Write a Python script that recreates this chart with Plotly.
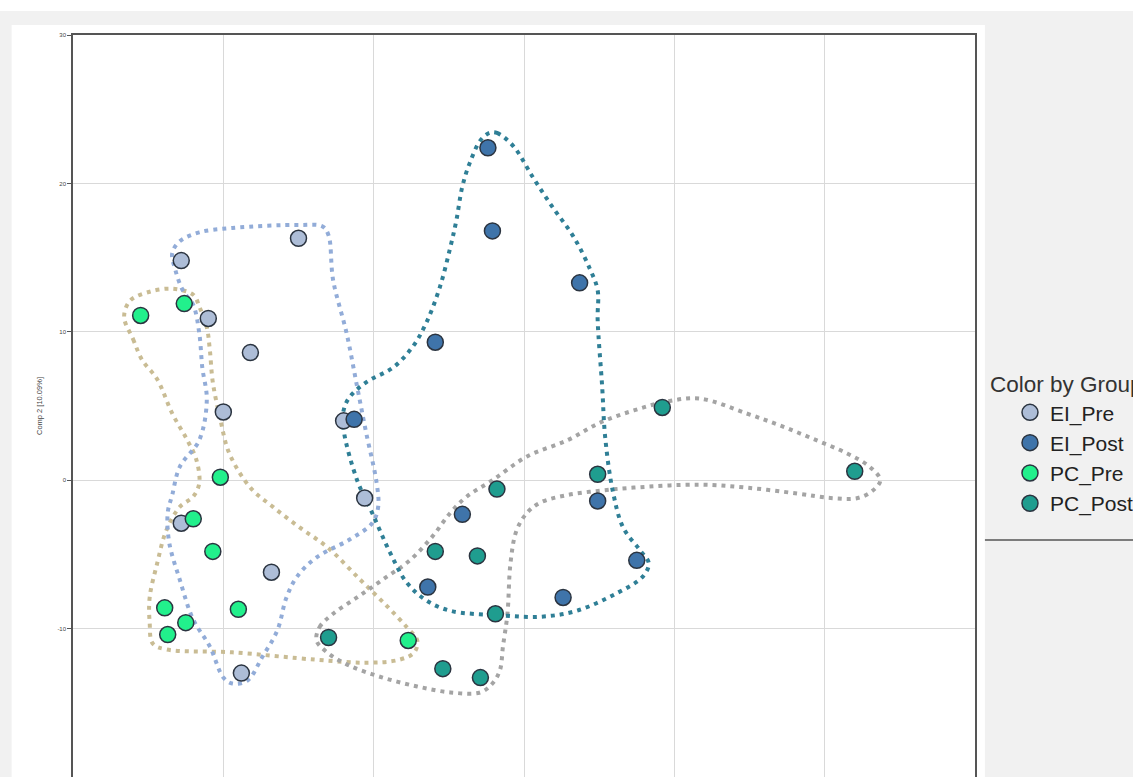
import plotly.graph_objects as go

# ---- score coordinates per group (Comp 1, Comp 2) ----
groups = ["EI_Pre", "EI_Post", "PC_Pre", "PC_Post"]

ei_pre_x = [-22.8, -15.0, -21.0, -18.2, -20.0, -12.0, -10.6, -22.8, -16.8, -18.8]
ei_pre_y = [14.8, 16.3, 10.9, 8.6, 4.6, 4.0, -1.2, -2.9, -6.2, -13.0]

ei_post_x = [-2.4, -2.1, 3.7, -5.9, -11.3, 4.9, -4.1, 7.5, -6.4, 2.6]
ei_post_y = [22.4, 16.8, 13.3, 9.3, 4.1, -1.4, -2.3, -5.4, -7.2, -7.9]

pc_pre_x = [-25.5, -22.6, -20.2, -22.0, -20.7, -23.9, -19.0, -22.5, -23.7, -7.7]
pc_pre_y = [11.1, 11.9, 0.2, -2.6, -4.8, -8.6, -8.7, -9.6, -10.4, -10.8]

pc_post_x = [9.2, 4.9, -1.8, -5.9, -3.1, -1.9, -13.0, -5.4, -2.9, 22.0]
pc_post_y = [4.9, 0.4, -0.6, -4.8, -5.1, -9.0, -10.6, -12.7, -13.3, 0.6]

# ---- group envelope outlines (Comp 1, Comp 2) ----
ei_pre_hull_x = [-23.4, -22.9, -21.6, -19.4, -14.9, -13.4, -13.0, -12.7, -11.8, -11.1,
                 -10.5, -9.8, -9.7, -10.1, -11.6, -13.8, -15.1, -15.8, -16.4, -17.4,
                 -18.4, -19.4, -20.0, -20.9, -22.0, -22.9, -23.6, -23.7, -23.4, -22.9,
                 -21.6, -21.1, -21.4, -21.6, -22.0, -22.7, -23.2]
ei_pre_hull_y = [15.3, 16.1, 16.7, 17.0, 17.2, 17.1, 16.5, 13.5, 9.9, 6.3,
                 3.2, -0.2, -1.8, -2.9, -4.0, -5.2, -6.5, -7.9, -10.1, -11.9,
                 -13.5, -13.7, -13.3, -11.2, -9.4, -6.7, -4.2, -2.2, -1.0, 0.9,
                 2.7, 5.4, 7.6, 9.9, 11.8, 12.8, 14.2]

pc_pre_hull_x = [-26.6, -26.0, -25.4, -24.4, -23.4, -22.4, -21.8, -21.6, -22.0, -22.9,
                 -23.8, -24.4, -24.9, -24.9, -24.7, -23.8, -19.4, -13.8, -10.5, -8.3,
                 -7.3, -7.1, -7.8, -9.1, -10.9, -13.1, -14.9, -16.7, -18.2, -19.6,
                 -20.2, -20.7, -20.9, -21.1, -21.6, -22.0, -23.4, -24.9, -26.2]
pc_pre_hull_y = [11.0, 9.5, 8.1, 6.8, 4.5, 2.7, 1.4, -0.2, -1.1, -1.8,
                 -3.4, -5.6, -7.9, -9.6, -11.0, -11.4, -11.6, -12.1, -12.3, -12.1,
                 -11.6, -10.8, -9.9, -8.5, -6.7, -4.5, -3.2, -1.8, -0.5, 1.8,
                 4.1, 6.6, 8.8, 10.3, 11.7, 12.5, 12.9, 12.7, 12.1]

ei_post_hull_x = [-2.3, -1.8, -0.7, 0.6, 1.9, 3.3, 4.4, 4.9, 4.9, 5.2,
                  5.4, 5.9, 6.6, 7.7, 8.3, 7.9, 6.2, 3.5, 1.1, -1.6,
                  -4.9, -6.5, -7.8, -8.9, -10.1, -11.1, -12.0, -12.0, -11.6, -10.5,
                  -8.7, -7.4, -6.5, -5.6, -4.9, -4.5, -4.1, -3.6, -2.9]
ei_post_hull_y = [23.4, 23.4, 22.5, 20.4, 18.4, 16.4, 14.2, 12.8, 10.8, 6.3,
                  2.9, -0.7, -3.2, -4.7, -5.6, -6.5, -7.6, -8.8, -9.2, -9.1,
                  -8.8, -8.1, -6.9, -4.9, -2.2, 0.0, 3.4, 4.7, 5.6, 6.6,
                  7.6, 9.0, 10.6, 13.0, 15.7, 17.5, 19.8, 21.4, 22.9]

pc_post_hull_x = [-13.8, -13.6, -12.7, -11.1, -9.4, -7.6, -6.1, -4.9, -3.8, -2.1,
                  0.2, 2.9, 5.1, 7.3, 9.5, 11.7, 14.8, 17.0, 19.2, 21.5,
                  23.0, 23.7, 23.2, 22.2, 20.4, 18.2, 14.8, 11.7, 7.3, 5.1,
                  2.9, 1.1, 0.2, -0.5, -0.9, -1.1, -1.4, -1.6, -2.1, -2.9,
                  -4.9, -7.1, -9.4, -11.6, -13.1]
pc_post_hull_y = [-10.8, -9.9, -9.0, -7.9, -6.7, -5.4, -3.8, -2.2, -1.1, 0.0,
                  1.6, 2.7, 3.9, 4.7, 5.3, 5.5, 4.5, 3.7, 2.8, 1.8,
                  0.9, 0.0, -0.7, -1.2, -1.2, -0.9, -0.5, -0.3, -0.5, -0.7,
                  -1.0, -1.5, -2.2, -3.4, -5.6, -9.0, -11.2, -12.8, -13.7, -14.3,
                  -14.3, -13.9, -13.3, -12.5, -11.6]

y_ticks = [-20, -10, 0, 10, 20, 30]
y_tick_labels = ["-20", "-10", "0", "10", "20", "30"]

fill_colors = {"EI_Pre": "#adbdd7", "EI_Post": "#3f74aa", "PC_Pre": "#22f08c", "PC_Post": "#1f9d8f"}
hull_colors = {"EI_Pre": "#92acd8", "EI_Post": "#2f7f96", "PC_Pre": "#c9bc94", "PC_Post": "#a4a4a4"}

points = {
    "EI_Pre": (ei_pre_x, ei_pre_y),
    "EI_Post": (ei_post_x, ei_post_y),
    "PC_Pre": (pc_pre_x, pc_pre_y),
    "PC_Post": (pc_post_x, pc_post_y),
}
hulls = {
    "EI_Pre": (ei_pre_hull_x, ei_pre_hull_y),
    "EI_Post": (ei_post_hull_x, ei_post_hull_y),
    "PC_Pre": (pc_pre_hull_x, pc_pre_hull_y),
    "PC_Post": (pc_post_hull_x, pc_post_hull_y),
}

fig = go.Figure()

# dotted envelopes behind the markers
for g in ["PC_Pre", "EI_Pre", "PC_Post", "EI_Post"]:
    hx, hy = hulls[g]
    fig.add_trace(go.Scatter(
        x=hx + hx[:1], y=hy + hy[:1], mode="lines",
        line=dict(color=hull_colors[g], width=4, dash="4px,5px", shape="spline", smoothing=1.0),
        showlegend=False, hoverinfo="skip",
    ))

for g in groups:
    px_, py_ = points[g]
    fig.add_trace(go.Scatter(
        x=px_, y=py_, mode="markers", name=g,
        marker=dict(size=16, color=fill_colors[g], line=dict(color="#2b3440", width=1.5)),
    ))

# page panels and the rule under the legend
shapes = [
    dict(type="rect", xref="paper", yref="paper", x0=-0.09, x1=1.3, y0=1.0323, y1=1.06,
         fillcolor="white", line=dict(width=0), layer="below"),
    dict(type="rect", xref="paper", yref="paper", x0=-0.068, x1=1.011, y0=-0.02, y1=1.0135,
         fillcolor="white", line=dict(width=0), layer="below"),
    dict(type="line", xref="paper", yref="paper", x0=1.011, x1=1.2, y0=0.3194, y1=0.3194,
         line=dict(color="#555555", width=1.5)),
]

fig.update_layout(
    width=1133, height=777,
    margin=dict(l=73, r=158, t=35, b=0, autoexpand=False),
    paper_bgcolor="#f1f1f1",
    plot_bgcolor="white",
    font=dict(family="Liberation Sans, Arial, sans-serif", color="#222222"),
    shapes=shapes,
    showlegend=True,
    legend=dict(
        title=dict(text="Color by Group", font=dict(size=22.5, color="#333333")),
        font=dict(size=21, color="#222222"),
        x=1.0144, xanchor="left", y=0.558, yanchor="top",
        bgcolor="rgba(0,0,0,0)", borderwidth=0, indentation=22,
        itemsizing="trace",
    ),
    xaxis=dict(
        range=[-30, 30], dtick=10, showticklabels=False, ticks="",
        showgrid=True, gridcolor="#d9d9d9", gridwidth=1, zeroline=False,
        showline=True, mirror=True, linecolor="#555555", linewidth=1.5,
    ),
    yaxis=dict(
        range=[-20, 30], tickvals=y_ticks, ticktext=y_tick_labels,
        ticks="outside", ticklen=4, tickcolor="#555555",
        tickfont=dict(size=6, color="#444444"),
        showgrid=True, gridcolor="#d9d9d9", gridwidth=1, zeroline=False,
        showline=True, mirror=True, linecolor="#555555", linewidth=1.5,
        title=dict(text="Comp 2 [10.09%]", font=dict(size=7.5, color="#444444"), standoff=14),
    ),
)

fig.write_html("out.html")
